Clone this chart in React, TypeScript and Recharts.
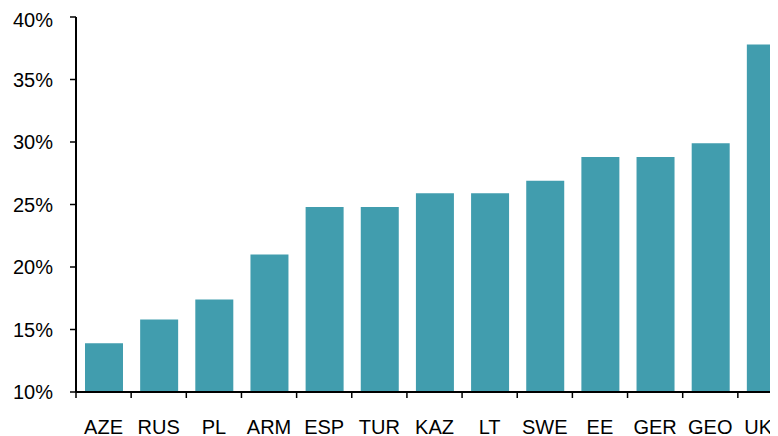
import React from 'react'
import { BarChart, Bar, XAxis, YAxis } from 'recharts'

const countries = ['AZE', 'RUS', 'PL', 'ARM', 'ESP', 'TUR', 'KAZ', 'LT', 'SWE', 'EE', 'GER', 'GEO', 'UKR']
const shares = [13.9, 15.8, 17.4, 21.0, 24.8, 24.8, 25.9, 25.9, 26.9, 28.8, 28.8, 29.9, 37.8]
const yTicks = [10, 15, 20, 25, 30, 35, 40]

const data = countries.map((name, i) => ({ name, value: shares[i] }))

const CHART_W = 800
const CHART_H = 440
const Y_AXIS_W = 68
const MARGIN_RIGHT = 15
const BAND = (CHART_W - Y_AXIS_W - MARGIN_RIGHT) / countries.length

// label centred in the band, tick mark at the band's left edge
function CountryTick(props: any) {
  const { x, y, payload } = props
  const edge = x - BAND / 2
  return (
    <g>
      <line x1={edge} y1={y} x2={edge} y2={y + 6} stroke="#000" strokeWidth={1.5} />
      <text x={x} y={y + 42} textAnchor="middle" fill="#000" fontSize={20}>
        {payload.value}
      </text>
    </g>
  )
}

export default function App() {
  return (
    <div style={{ width: 770, height: 428, overflow: 'hidden', fontFamily: '"Liberation Sans", Arial, sans-serif' }}>
      <BarChart
        width={CHART_W}
        height={CHART_H}
        data={data}
        margin={{ top: 9, right: MARGIN_RIGHT, bottom: 26, left: 0 }}
        barCategoryGap={0}
      >
        <XAxis
          dataKey="name"
          height={30}
          interval={0}
          tickSize={0}
          tickMargin={0}
          axisLine={{ stroke: '#000', strokeWidth: 2 }}
          tick={<CountryTick />}
        />
        <YAxis
          width={Y_AXIS_W}
          domain={[10, 40]}
          ticks={yTicks}
          allowDataOverflow
          tickFormatter={(v: number) => `${v}%`}
          tickSize={6}
          tickMargin={17}
          axisLine={{ stroke: '#000', strokeWidth: 2 }}
          tickLine={{ stroke: '#000', strokeWidth: 1.5 }}
          tick={{ fill: '#000', fontSize: 20 }}
        />
        <Bar dataKey="value" fill="#419DAE" barSize={38} isAnimationActive={false} />
      </BarChart>
    </div>
  )
}
